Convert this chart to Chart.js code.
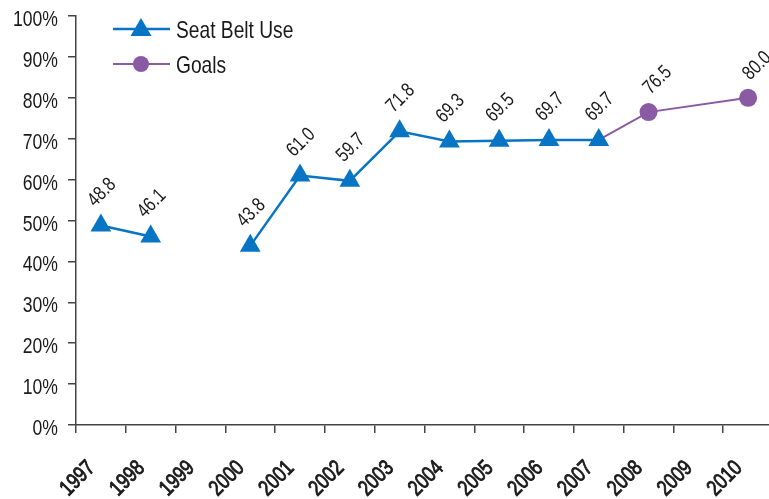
<!DOCTYPE html>
<html>
<head>
<meta charset="utf-8">
<script src="https://cdn.jsdelivr.net/npm/chart.js@4/dist/chart.umd.min.js"></script>
<style>
	html, body { margin: 0; padding: 0; background: #fff; overflow: hidden; }
	#wrap { width: 769px; height: 499px; overflow: hidden; }
</style>
</head>
<body>
<div id="wrap"><canvas id="chart" width="773" height="499"></canvas></div>
<script>
const years = ["1997", "1998", "1999", "2000", "2001", "2002", "2003", "2004", "2005", "2006", "2007", "2008", "2009", "2010"];
const seatBeltUse = [48.8, 46.1, null, 43.8, 61.0, 59.7, 71.8, 69.3, 69.5, 69.7, 69.7, null, null, null];
const goals = [null, null, null, null, null, null, null, null, null, null, 69.7, 76.5, null, 80.0];
const yTicks = [0, 10, 20, 30, 40, 50, 60, 70, 80, 90, 100];

const FONT = "'Liberation Sans', Arial, sans-serif";
const NARROW = 0.8; // squeeze Liberation Sans toward a condensed face
const BLUE = "#0874C4";
const PURPLE = "#8A5BA3";
const TEXT = "#1a1a1a";

// draw condensed text, optionally rotated; heavy adds a thin outline
function narrowText(ctx, text, x, y, font, align, angle, heavy) {
	ctx.save();
	ctx.font = font;
	ctx.textAlign = align;
	ctx.textBaseline = "alphabetic";
	ctx.fillStyle = TEXT;
	ctx.translate(x, y);
	if (angle) ctx.rotate(angle);
	ctx.scale(NARROW, 1);
	ctx.fillText(text, 0, 0);
	if (heavy) {
		ctx.strokeStyle = TEXT;
		ctx.lineWidth = heavy;
		ctx.strokeText(text, 0, 0);
	}
	ctx.restore();
}

// axis tick labels, placed with the chart's own scales
const axisLabels = {
	id: "axisLabels",
	afterDraw(chart) {
		const ctx = chart.ctx;
		const xs = chart.scales.x;
		const ys = chart.scales.y;
		yTicks.forEach((v) => {
			narrowText(ctx, v + "%", 58, ys.getPixelForValue(v) + 10, "22px " + FONT, "right", 0);
		});
		years.forEach((yr, i) => {
			narrowText(ctx, yr, xs.getPixelForValue(i) - 5, ys.bottom + 44, "22px " + FONT, "right", -Math.PI / 4, 0.9);
		});
	},
};

// value labels, rotated, above each visible point
const valueLabels = {
	id: "valueLabels",
	afterDatasetsDraw(chart) {
		const ctx = chart.ctx;
		chart.data.datasets.forEach((ds, i) => {
			const meta = chart.getDatasetMeta(i);
			const off = ds.pointStyle === "triangle" ? [-6, -18] : [2, -17];
			meta.data.forEach((pt, j) => {
				const v = ds.data[j];
				if (v === null || pt.options.radius === 0) return;
				narrowText(ctx, v.toFixed(1), pt.x + off[0], pt.y + off[1], "20px " + FONT, "left", -Math.PI / 4);
			});
		});
	},
};

// legend drawn as line + marker, like the original
const lineLegend = {
	id: "lineLegend",
	afterDraw(chart) {
		const ctx = chart.ctx;
		const items = [
			{ text: "Seat Belt Use", color: BLUE, width: 2.5, shape: "triangle", y: 29 },
			{ text: "Goals", color: PURPLE, width: 2, shape: "circle", y: 64 },
		];
		items.forEach((it) => {
			ctx.save();
			ctx.strokeStyle = it.color;
			ctx.lineWidth = it.width;
			ctx.beginPath();
			ctx.moveTo(113, it.y);
			ctx.lineTo(170, it.y);
			ctx.stroke();
			ctx.fillStyle = it.color;
			ctx.beginPath();
			if (it.shape === "triangle") {
				ctx.moveTo(141, it.y - 11);
				ctx.lineTo(151.5, it.y + 7);
				ctx.lineTo(130.5, it.y + 7);
				ctx.closePath();
			} else {
				ctx.arc(141, it.y, 8, 0, Math.PI * 2);
			}
			ctx.fill();
			ctx.restore();
			narrowText(ctx, it.text, 176, it.y + 9, "24px " + FONT, "left", 0);
		});
	},
};

new Chart(document.getElementById("chart"), {
	type: "line",
	data: {
		labels: years,
		datasets: [
			{
				label: "Seat Belt Use",
				data: seatBeltUse,
				borderColor: BLUE,
				backgroundColor: BLUE,
				borderWidth: 2.5,
				pointStyle: "triangle",
				pointRadius: 12,
				pointBorderWidth: 0,
				spanGaps: false,
			},
			{
				label: "Goals",
				data: goals,
				borderColor: PURPLE,
				backgroundColor: PURPLE,
				borderWidth: 2,
				pointStyle: "circle",
				pointRadius: (c) => (c.index === 10 ? 0 : 9),
				pointBorderWidth: 0,
				spanGaps: true,
			},
		],
	},
	options: {
		responsive: false,
		animation: false,
		layout: { autoPadding: false, padding: { top: 16, left: 0, right: 0, bottom: 0 } },
		plugins: {
			legend: { display: false },
			tooltip: { enabled: false },
		},
		scales: {
			x: {
				offset: true,
				grid: {
					offset: true,
					drawOnChartArea: false,
					color: "#444",
					lineWidth: 1.5,
					tickLength: 8,
				},
				border: { color: "#444", width: 1.5 },
				ticks: { display: false, autoSkip: false },
				afterFit: (scale) => { scale.height = 74; },
			},
			y: {
				min: 0,
				max: 100,
				afterBuildTicks: (scale) => { scale.ticks = yTicks.map((v) => ({ value: v })); },
				grid: {
					drawOnChartArea: false,
					color: "#444",
					lineWidth: 1.5,
					tickLength: 8,
				},
				border: { color: "#444", width: 1.5 },
				ticks: { display: false },
				afterFit: (scale) => { scale.width = 76; },
			},
		},
	},
	plugins: [valueLabels, axisLabels, lineLegend],
});
</script>
</body>
</html>
